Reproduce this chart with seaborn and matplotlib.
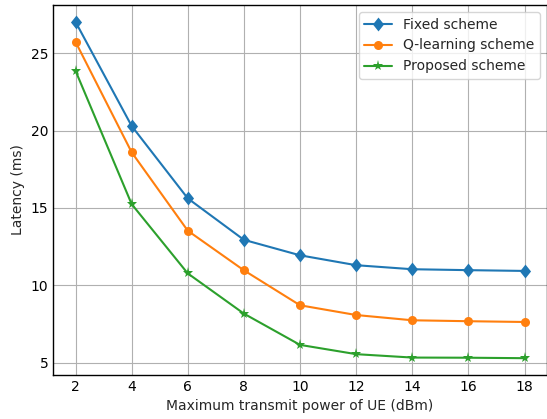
import pandas as pd
import numpy as np
import matplotlib
matplotlib.use("Agg")
import matplotlib.pyplot as plt
import seaborn as sns

# values
power = [2, 4, 6, 8, 10, 12, 14, 16, 18]
fixed = [27.03, 20.3, 15.62, 12.94, 11.94, 11.3, 11.04, 10.98, 10.93]
qlearn = [25.74, 18.6, 13.53, 10.97, 8.71, 8.08, 7.74, 7.68, 7.63]
proposed = [23.87, 15.25, 10.77, 8.17, 6.15, 5.55, 5.33, 5.32, 5.29]

labels = ["Fixed scheme", "Q-learning scheme", "Proposed scheme"]

df = pd.DataFrame({
    "power": power * 3,
    "latency": fixed + qlearn + proposed,
    "scheme": [labels[0]] * 9 + [labels[1]] * 9 + [labels[2]] * 9,
})

sns.set_style("white")
plt.rcParams['font.family'] = ['DejaVu Sans']

fig = plt.figure(figsize=(5.47, 4.19), dpi=100)
ax = fig.add_axes([0.097, 0.105, 0.903, 0.883])

# slightly tall diamond, like the one in the reference
diamond = [(0, 1), (0.8, 0), (0, -1), (-0.8, 0), (0, 1)]
markers = {"Fixed scheme": diamond, "Q-learning scheme": "o", "Proposed scheme": "*"}
sizes = {"Fixed scheme": 10, "Q-learning scheme": 6.5, "Proposed scheme": 8}
colors = ["#1f77b4", "#ff7f0e", "#2ca02c"]

for lab, col in zip(labels, colors):
    sub = df[df["scheme"] == lab]
    sns.lineplot(x="power", y="latency", data=sub, ax=ax, color=col,
                 marker=markers[lab], markersize=sizes[lab], markeredgewidth=0,
                 linewidth=1.5, label=lab)

ax.set_xticks(power)
ax.set_yticks([5, 10, 15, 20, 25])
ax.grid(True, color="#b0b0b0", linewidth=0.8)
ax.tick_params(direction="in", labelsize=10, length=4, colors="black")
for s in ax.spines.values():
    s.set_color("black")
    s.set_linewidth(1.0)

ax.set_xlabel("Maximum transmit power of UE (dBm)", fontsize=10)
ax.set_ylabel("Latency (ms)", fontsize=10)
ax.legend(loc="upper right", fontsize=10)

fig.savefig("out.png", dpi=100)
